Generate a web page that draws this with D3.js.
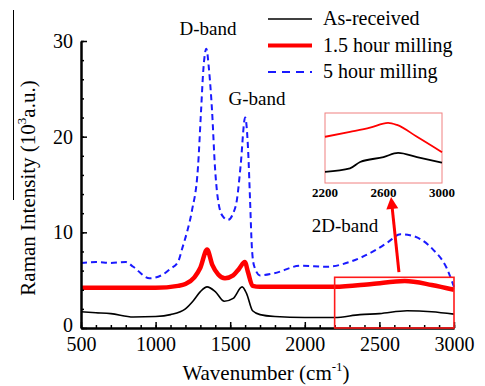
<!DOCTYPE html>
<html lang='en'>
<head>
  <meta charset='UTF-8'>
  <title>Raman</title>
  <style>
    * { margin: 0; padding: 0; }
    body { background: #fff; }
    #chart { width: 485px; height: 386px; }
    text { font-family: 'Liberation Serif', 'Times New Roman', serif; fill: #000; }
  </style>
</head>
<body>
<script src='https://cdn.jsdelivr.net/npm/d3@7'></script>
<div id='chart'></div>
<script>
  // [wavenumber, intensity (10^3 a.u.)]
  const asReceived = [[500,1.7],[600,1.6],[700,1.5],[850,1.15],[1000,1.2],[1100,1.4],[1200,2.0],[1250,2.8],[1300,3.8],[1345,4.3],[1400,3.8],[1460,2.8],[1520,3.1],[1580,4.3],[1610,3.6],[1650,1.8],[1700,1.4],[1800,1.2],[2000,1.1],[2200,1.1],[2370,1.4],[2500,1.5],[2685,1.8],[2850,1.7],[3000,1.45]]
  const milling15 = [[500,4.2],[800,4.2],[1000,4.2],[1150,4.4],[1200,4.6],[1260,5.3],[1300,6.3],[1345,8.2],[1380,6.6],[1420,5.6],[1465,5.2],[1520,5.5],[1560,6.2],[1598,6.9],[1620,5.8],[1650,4.4],[1700,4.3],[2000,4.3],[2200,4.3],[2450,4.6],[2670,4.9],[2850,4.5],[3000,4.0]]
  const milling5 = [[500,6.8],[600,6.9],[700,6.8],[800,6.9],[850,6.4],[960,5.2],[1050,5.6],[1100,6.2],[1150,6.9],[1180,8.4],[1210,10],[1244,12.3],[1284,16.8],[1304,22.5],[1320,27],[1340,29.2],[1358,27],[1378,22.8],[1398,16.8],[1432,12.3],[1460,11.5],[1485,11.3],[1520,12],[1545,13.4],[1570,17],[1600,22],[1620,18.6],[1633,13.4],[1645,8.5],[1660,6.5],[1700,5.5],[1790,5.7],[1970,6.5],[2150,6.4],[2300,6.9],[2480,8.2],[2560,9],[2640,9.8],[2705,9.7],[2860,8.2],[2950,6.3],[3000,4.3]]
  // inset (2D band, relative units)
  const insetRed = [[2200,6.6],[2371,7.3],[2508,7.9],[2631,8.6],[2692,8.3],[2829,6.6],[3000,4.4]]
  const insetBlack = [[2200,1.6],[2371,2.1],[2440,3.0],[2600,3.7],[2700,4.3],[2829,3.7],[3000,2.9]]
  const xTicks = [500, 1000, 1500, 2000, 2500, 3000]
  const yTicks = [0, 10, 20, 30]
  const insetTicks = [2200, 2600, 3000]
  const legendNames = ['As-received', '1.5 hour milling', '5 hour milling']

  const W = 485, H = 386
  const margin = {top: 41, right: 31, bottom: 58, left: 81}

  let svg = d3.select('#chart').append('svg')
    .attr('width', W).attr('height', H)
  svg.append('rect').attr('width', W).attr('height', H).style('fill', '#fff')

  let x = d3.scaleLinear().domain([500, 3000]).range([margin.left, W - margin.right])
  let y = d3.scaleLinear().domain([0, 30]).range([H - margin.bottom, margin.top])

  let line = d3.line().x(d => x(d[0])).y(d => y(d[1])).curve(d3.curveMonotoneX)

  // series
  svg.append('path').attr('d', line(milling5)).attr('fill', 'none')
    .attr('stroke', '#1a1aff').attr('stroke-width', 2).attr('stroke-dasharray', '6,4')
  svg.append('path').attr('d', line(milling15)).attr('fill', 'none')
    .attr('stroke', '#ff0000').attr('stroke-width', 4.5).attr('stroke-linejoin', 'round')
  svg.append('path').attr('d', line(asReceived)).attr('fill', 'none')
    .attr('stroke', '#000').attr('stroke-width', 1.6)

  // axes
  let axisStyle = g => {
    g.select('.domain').attr('stroke-width', 2)
    g.selectAll('.tick line').attr('stroke-width', 1.5)
    g.selectAll('text').style('font-size', '20px').style('font-family', "'Liberation Serif', serif")
  }
  svg.append('g').attr('transform', 'translate(0,' + (H - margin.bottom) + ')')
    .call(d3.axisBottom(x).tickValues(d3.range(500, 3001, 100)).tickFormat('').tickSizeInner(-3).tickSizeOuter(0))
    .call(axisStyle)
  svg.append('g').attr('transform', 'translate(0,' + (H - margin.bottom) + ')')
    .call(d3.axisBottom(x).tickValues(xTicks).tickFormat(d3.format('d')).tickSizeInner(-6).tickSizeOuter(0).tickPadding(9))
    .call(axisStyle)
  svg.append('g').attr('transform', 'translate(' + margin.left + ',0)')
    .call(d3.axisLeft(y).tickValues(d3.range(0, 31, 2)).tickFormat('').tickSizeInner(-3).tickSizeOuter(0))
    .call(axisStyle)
  svg.append('g').attr('transform', 'translate(' + margin.left + ',0)')
    .call(d3.axisLeft(y).tickValues(yTicks).tickFormat(d3.format('d')).tickSizeInner(-6).tickSizeOuter(0).tickPadding(8))
    .call(axisStyle)
    .call(g => g.selectAll('.tick text').filter(d => d === 0).attr('dy', '0.15em'))

  // axis titles
  let xt = svg.append('text').attr('x', 266).attr('y', 380).attr('text-anchor', 'middle').style('font-size', '21px')
  xt.append('tspan').text('Wavenumber (cm')
  xt.append('tspan').text('-1').attr('dy', -9).style('font-size', '13px')
  xt.append('tspan').text(')').attr('dy', 9)

  let yt = svg.append('text').attr('transform', 'translate(35,188) rotate(-90)').attr('text-anchor', 'middle').style('font-size', '21px')
  yt.append('tspan').text('Raman Intensity (10')
  yt.append('tspan').text('3').attr('dy', -9).style('font-size', '13px')
  yt.append('tspan').text('a.u.)').attr('dy', 9)
  svg.append('line').attr('x1', 13.5).attr('x2', 13.5).attr('y1', 10).attr('y2', 200).attr('stroke', '#000').attr('stroke-width', 1)

  // band labels
  svg.append('text').attr('x', 208).attr('y', 35).attr('text-anchor', 'middle').style('font-size', '19px').text('D-band')
  svg.append('text').attr('x', 257).attr('y', 105).attr('text-anchor', 'middle').style('font-size', '19px').text('G-band')
  svg.append('text').attr('x', 345).attr('y', 232).attr('text-anchor', 'middle').style('font-size', '19px').text('2D-band')

  // legend
  let legend = svg.append('g')
  let lg = [
    {stroke: '#000', w: 1.6, dash: null},
    {stroke: '#ff0000', w: 4, dash: null},
    {stroke: '#1a1aff', w: 2, dash: '8,6'}
  ]
  legendNames.forEach((name, i) => {
    let ly = 19 + i * 26.5
    legend.append('line').attr('x1', 268).attr('x2', 312).attr('y1', ly).attr('y2', ly)
      .attr('stroke', lg[i].stroke).attr('stroke-width', lg[i].w).attr('stroke-dasharray', lg[i].dash)
    legend.append('text').attr('x', 323).attr('y', ly + 6).style('font-size', '20px').text(name)
  })

  // highlight box on main plot
  svg.append('rect')
    .attr('x', x(2200)).attr('y', y(5.3))
    .attr('width', x(3000) - x(2200)).attr('height', y(0) - y(5.3))
    .attr('fill', 'none').attr('stroke', '#ff1a1a').attr('stroke-width', 1.6)

  // arrow
  let ax1 = x(2631), ay1 = y(5.85), ax2 = x(2578), ay2 = y(13.7)
  svg.append('line').attr('x1', ax1).attr('y1', ay1).attr('x2', ax2 + (ax1 - ax2) * 0.14).attr('y2', ay2 + (ay1 - ay2) * 0.14)
    .attr('stroke', '#ff0000').attr('stroke-width', 3)
  let ang = Math.atan2(ay2 - ay1, ax2 - ax1)
  let hl = 12, hw = 6
  let bx = ax2 - hl * Math.cos(ang), by = ay2 - hl * Math.sin(ang)
  svg.append('path')
    .attr('d', 'M' + ax2 + ',' + ay2 + 'L' + (bx + hw * Math.sin(ang)) + ',' + (by - hw * Math.cos(ang)) +
      'L' + (bx - hw * Math.sin(ang)) + ',' + (by + hw * Math.cos(ang)) + 'Z')
    .attr('fill', '#ff0000')

  // inset
  let ix = d3.scaleLinear().domain([2200, 3000]).range([325, 442])
  let iy = d3.scaleLinear().domain([0, 10]).range([183, 113])
  let iline = d3.line().x(d => ix(d[0])).y(d => iy(d[1])).curve(d3.curveMonotoneX)
  svg.append('rect').attr('x', 325).attr('y', 113).attr('width', 117).attr('height', 70)
    .attr('fill', '#fff').attr('stroke', '#f08080').attr('stroke-width', 1)
  svg.append('path').attr('d', iline(insetRed)).attr('fill', 'none').attr('stroke', '#ff0000').attr('stroke-width', 1.8)
  svg.append('path').attr('d', iline(insetBlack)).attr('fill', 'none').attr('stroke', '#000').attr('stroke-width', 1.8)
  svg.selectAll('.itick').data(insetTicks).enter().append('text')
    .attr('x', d => ix(d)).attr('y', 197).attr('text-anchor', 'middle')
    .style('font-size', '13px').style('font-weight', 'bold').text(d => d)
</script>
</body>
</html>
